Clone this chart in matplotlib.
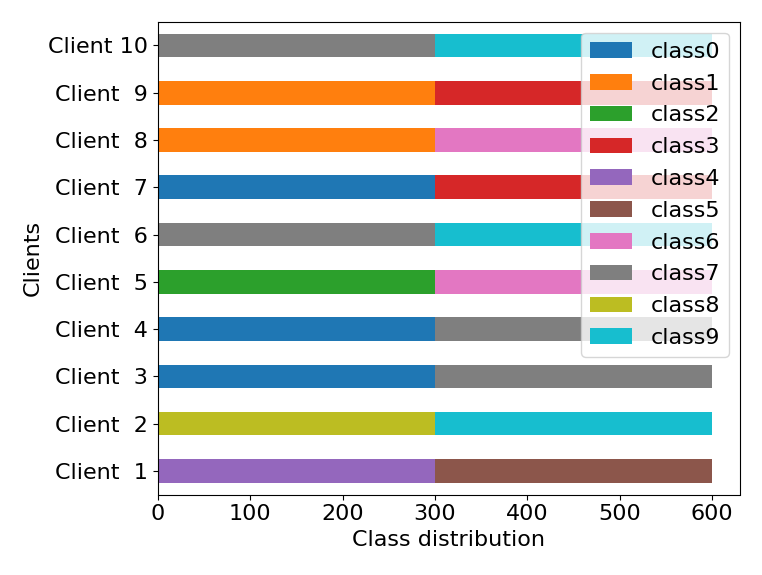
import matplotlib
matplotlib.use('Agg')
import matplotlib.pyplot as plt
import numpy as np

clients = ['Client %2d' % i for i in range(1, 11)]
classes = ['class%d' % i for i in range(10)]

# two classes per client, 300 samples each
client_classes = [(4, 5), (8, 9), (0, 7), (0, 7), (2, 6),
                  (7, 9), (0, 3), (1, 6), (1, 3), (7, 9)]
samples = [(300, 300)] * 10

counts = np.zeros((len(clients), len(classes)))
for i, (pair, vals) in enumerate(zip(client_classes, samples)):
    for c, v in zip(pair, vals):
        counts[i, c] = v

colors = plt.rcParams['axes.prop_cycle'].by_key()['color']

fig = plt.figure(figsize=(7.62, 5.75), dpi=100)
ax = fig.add_axes([0.207, 0.140, 0.764, 0.822])

y = np.arange(len(clients))
left = np.zeros(len(clients))
for k, name in enumerate(classes):
    ax.barh(y, counts[:, k], height=0.5, left=left, color=colors[k], label=name)
    left += counts[:, k]

ax.set_yticks(y)
ax.set_yticklabels(clients, fontsize=16)
ax.set_ylim(-0.5, len(clients) - 0.5)
ax.set_xlim(0, 630)
ax.tick_params(axis='x', labelsize=16)
ax.set_xlabel('Class distribution', fontsize=16)
ax.set_ylabel('Clients', fontsize=16)
ax.legend(loc='upper right', fontsize=16, labelspacing=0.53, handlelength=1.9)

fig.savefig('out.png', dpi=100)
